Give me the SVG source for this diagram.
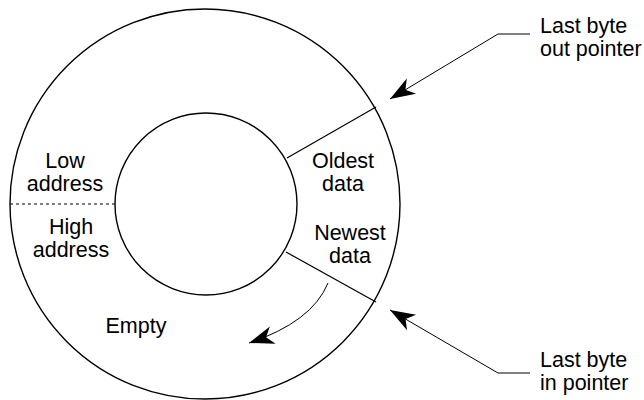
<svg xmlns="http://www.w3.org/2000/svg" width="644" height="400" viewBox="0 0 644 400">
<defs>
<style>
text{font-family:"Liberation Sans",Arial,sans-serif;font-size:21.5px;fill:#000}
.c{text-anchor:middle}
.ring{fill:none;stroke:#000;stroke-width:1.4}
.ln{fill:none;stroke:#000;stroke-width:1.2}
.ptr{fill:none;stroke:#000;stroke-width:1;marker-end:url(#ah)}
</style>
<marker id="ah" markerUnits="userSpaceOnUse" markerWidth="30" markerHeight="24" viewBox="-26 -12 28 24" refX="0" refY="0" orient="auto" overflow="visible">
<path d="M0,0 L-25,-9 L-18,0 L-25,9 Z" fill="#000"/>
</marker>
</defs>
<g id="ring">
<circle class="ring" cx="205" cy="204" r="195"/>
<circle class="ring" cx="206" cy="204" r="91"/>
<line x1="10" y1="204" x2="115" y2="204" stroke="#000" stroke-width="1" stroke-dasharray="3,3"/>
<line class="ln" x1="287" y1="158" x2="376" y2="107"/>
<line class="ln" x1="286" y1="252" x2="376" y2="302"/>
</g>
<g id="low-address"><text class="c" x="65" y="168">Low</text><text class="c" x="65" y="191">address</text></g>
<g id="high-address"><text class="c" x="71" y="234">High</text><text class="c" x="71" y="257">address</text></g>
<g id="oldest-data"><text class="c" x="343" y="168">Oldest</text><text class="c" x="343" y="191">data</text></g>
<g id="newest-data"><text class="c" x="350" y="240">Newest</text><text class="c" x="350" y="263">data</text></g>
<g id="empty"><text class="c" x="136" y="333">Empty</text></g>
<g id="out-pointer"><text x="540" y="33">Last byte</text><text x="540" y="56">out pointer</text></g>
<g id="in-pointer"><text x="540" y="367">Last byte</text><text x="540" y="390">in pointer</text></g>
<g id="connectors">
<path class="ptr" d="M530,34 L498,34 L390,99"/>
<path class="ptr" d="M530,373 L498,373 L390,310"/>
<path class="ptr" d="M328,283 Q312,322 249,343"/>
</g>
</svg>
